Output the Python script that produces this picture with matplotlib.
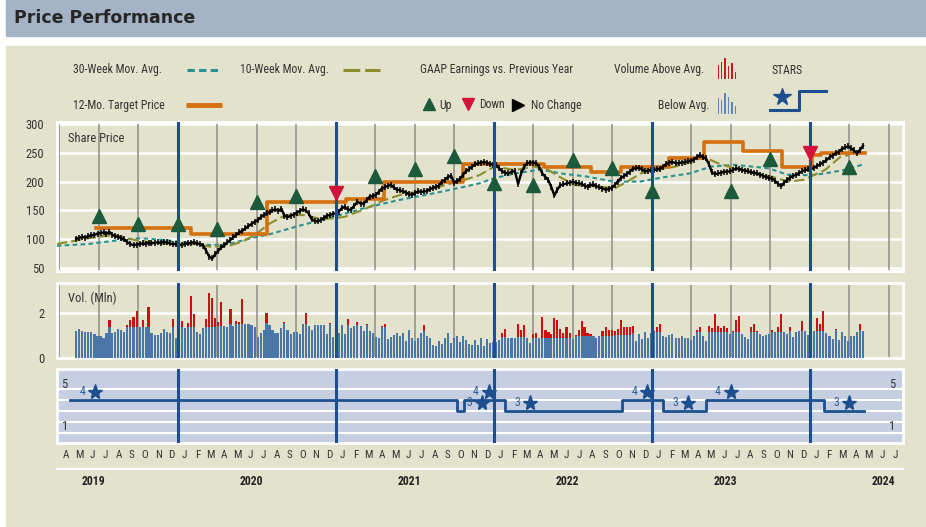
import numpy as np
import pandas as pd
import matplotlib
matplotlib.use('Agg')
import matplotlib.pyplot as plt
from matplotlib import font_manager
from matplotlib.patches import Rectangle

# pick a narrow font if one is installed
names = {f.name for f in font_manager.fontManager.ttflist}
narrow = 'DejaVu Sans'
for cand in ['Liberation Sans Narrow', 'DejaVu Sans Condensed', 'Roboto Condensed', 'Liberation Sans']:
    if cand in names:
        narrow = cand
        break
plt.rcParams['font.family'] = [narrow, 'DejaVu Sans']

# ---------------- data ----------------
# weekly closes, first week ending 2019-05-10
close_2019 = [101, 103, 104, 103, 106, 107, 108, 110, 111, 112, 110, 113, 108, 105, 104, 102, 100,
              95, 92, 90, 91, 92, 93, 92, 94, 93, 94, 95, 94, 96, 95, 93, 92, 92]
close_2020 = [91, 90, 92, 93, 94, 95, 93, 92, 89, 80, 70, 67, 74, 80, 86, 90, 95, 99, 104, 108, 112, 115,
              119, 123, 127, 130, 133, 138, 142, 145, 147, 150, 152, 149, 153, 141, 138, 141, 143,
              146, 149, 152, 150, 145, 135, 132, 131, 134, 137, 141, 142, 144]
close_2021 = [145, 148, 154, 156, 152, 151, 158, 165, 162, 162, 168, 174, 175, 177, 182, 188, 190, 193,
              194, 190, 186, 185, 183, 181, 178, 177, 180, 183, 182, 183, 184, 187, 189, 191, 193,
              200, 203, 208, 210, 198, 201, 205, 212, 218, 222, 226, 230, 232, 233, 234, 232, 230, 229]
close_2022 = [229, 223, 218, 215, 214, 217, 218, 196, 215, 226, 232, 233, 233, 232, 225, 214, 208,
              202, 190, 176, 186, 194, 195, 197, 198, 200, 198, 197, 196, 193, 191, 194, 195, 192,
              190, 188, 186, 187, 189, 194, 200, 206, 209, 213, 217, 222, 223, 224, 221, 218, 219, 220]
close_2023 = [220, 221, 222, 225, 230, 233, 234, 232, 232, 233, 234, 235, 236, 238, 242, 246, 242,
              240, 230, 216, 213, 214, 215, 217, 217, 218, 220, 223, 222, 220, 219, 218, 216, 215,
              214, 212, 210, 208, 206, 205, 201, 196, 192, 198, 203, 207, 210, 212, 215, 218, 220, 221]
close_2024 = [222, 224, 227, 230, 233, 237, 242, 245, 249, 252, 256, 259, 261, 258, 254, 249, 255, 262]

# weekly volume (millions)
vol_2019 = [1.19, 1.25, 1.18, 1.15, 1.13, 1.12, 1.06, 0.96, 0.96, 0.87, 1.11, 1.67, 1.10, 1.13, 1.25, 1.21,
            1.13, 1.46, 1.67, 1.79, 2.07, 1.36, 1.67, 1.36, 2.23, 1.10, 1.00, 1.00, 1.07, 1.27, 1.15, 1.07,
            1.71, 0.87]
vol_2020 = [1.05, 1.62, 1.33, 1.52, 2.73, 1.92, 1.12, 1.03, 1.30, 1.70, 2.87, 2.63, 1.76, 1.56, 2.47, 1.41,
            1.37, 2.16, 1.41, 1.62, 1.56, 2.60, 1.47, 1.47, 1.45, 1.37, 0.93, 1.10, 1.22, 1.99, 1.45,
            1.22, 1.07, 1.10, 1.30, 1.59, 1.22, 1.03, 1.13, 1.13, 1.06, 1.49, 1.99, 1.41, 1.22, 1.45,
            1.46, 1.46, 1.46, 1.06, 1.55, 0.93]
vol_2021 = [0.78, 1.10, 1.44, 1.06, 1.71, 1.33, 1.42, 1.59, 1.41, 1.19, 1.49, 1.18, 1.09, 0.93, 0.87, 1.42,
            1.49, 0.82, 0.93, 1.02, 1.07, 0.96, 1.07, 0.73, 1.22, 0.85, 0.73, 0.85, 1.10, 1.45, 0.96, 0.85,
            0.54, 0.50, 0.75, 0.60, 0.87, 1.07, 0.66, 0.85, 0.96, 0.67, 0.96, 0.78, 0.60, 0.56, 0.78, 0.56,
            0.85, 0.52, 0.82, 0.66, 0.70]
vol_2022 = [0.70, 0.78, 1.07, 1.27, 0.85, 0.85, 0.85, 1.49, 1.22, 1.45, 0.85, 0.66, 1.03, 1.10, 0.85, 1.79,
            1.22, 1.13, 1.03, 1.76, 1.67, 1.27, 1.07, 1.36, 1.07, 0.84, 0.99, 1.22, 1.62, 1.37, 1.07, 1.03,
            0.96, 0.85, 0.96, 1.18, 1.36, 1.22, 1.22, 1.18, 1.27, 1.67, 1.36, 1.36, 1.36, 1.40, 0.75, 1.06,
            0.82, 1.14, 0.85, 1.07]
vol_2023 = [1.19, 1.34, 1.49, 0.96, 0.93, 1.00, 1.03, 0.85, 0.85, 0.96, 0.85, 0.85, 0.78, 0.96, 1.22, 1.34,
            0.96, 0.75, 1.40, 1.30, 1.93, 1.40, 1.31, 1.40, 1.31, 1.04, 1.18, 1.67, 1.85, 1.04, 0.91, 0.82,
            1.36, 1.49, 1.18, 1.04, 0.96, 1.00, 1.04, 1.22, 1.13, 1.36, 1.93, 1.13, 1.04, 1.36, 0.91, 1.13,
            1.19, 1.62, 1.19, 1.00]
vol_2024 = [1.33, 1.18, 1.76, 1.49, 2.07, 1.10, 0.96, 0.82, 1.27, 0.78, 1.13, 0.96, 0.73, 0.96, 0.96, 1.13,
            1.49, 1.18]

# average volume (steps) that splits blue / red
avg_dates = ['2019-04-01', '2020-04-01', '2020-05-01', '2020-07-01', '2020-10-01', '2021-01-01',
             '2021-04-01', '2021-07-01', '2021-10-01', '2022-01-01', '2022-04-01', '2022-07-01',
             '2022-10-01', '2022-11-15', '2022-12-15', '2023-01-01', '2023-11-15', '2024-03-01']
avg_vals = [1.36, 1.42, 1.49, 1.54, 1.47, 1.44, 1.34, 1.18, 1.05, 0.92, 0.88, 0.96, 1.00, 1.07, 1.12,
            1.13, 1.18, 1.22]

ma30_dates = ['2019-03-26', '2019-06-07', '2019-08-20', '2019-10-05', '2019-12-01', '2020-01-25',
              '2020-03-18', '2020-04-28', '2020-06-28', '2020-08-01', '2020-10-05', '2020-12-22',
              '2021-03-06', '2021-05-25', '2021-08-10', '2021-10-25', '2021-11-28', '2022-01-03',
              '2022-02-18', '2022-04-18', '2022-06-05', '2022-08-01', '2022-10-05', '2022-12-05',
              '2023-01-25', '2023-03-28', '2023-05-18', '2023-07-10', '2023-09-28', '2023-11-10',
              '2024-01-03', '2024-02-05', '2024-03-20', '2024-05-05']
ma30_vals = [89, 92, 99, 102, 99, 94, 90, 92, 104, 109, 123, 138, 154, 168, 179, 191, 197, 206, 214, 221,
             214, 209, 200, 200, 207, 214, 226, 229, 223, 212, 211, 214, 220, 230]

ma10_dates = ['2019-03-26', '2019-06-07', '2019-08-07', '2019-09-22', '2019-12-01', '2020-02-10',
              '2020-03-18', '2020-04-28', '2020-05-28', '2020-06-28', '2020-07-28', '2020-09-06',
              '2020-10-22', '2020-11-22', '2020-12-22', '2021-01-22', '2021-03-06', '2021-04-22',
              '2021-06-10', '2021-07-25', '2021-09-10', '2021-10-25', '2021-11-28', '2022-01-03',
              '2022-02-18', '2022-04-03', '2022-05-06', '2022-06-06', '2022-07-06', '2022-09-06',
              '2022-10-06', '2022-11-06', '2022-12-06', '2023-01-09', '2023-02-24', '2023-03-28',
              '2023-04-30', '2023-06-01', '2023-07-09', '2023-08-18', '2023-10-03', '2023-11-12',
              '2023-12-18', '2024-02-06', '2024-03-12', '2024-04-01']
ma10_vals = [92, 102, 108, 99, 92, 92, 87, 89, 96, 108, 126, 142, 142, 136, 136, 139, 152, 168, 180, 183,
             194, 203, 211, 226, 220, 226, 220, 206, 194, 191, 188, 200, 214, 220, 226, 233, 243, 232,
             223, 217, 209, 200, 203, 220, 243, 246]

# 12-month target price (step changes)
target_dates = ['2019-06-24', '2020-02-02', '2020-07-25', '2021-01-25', '2021-04-22', '2021-10-22',
                '2022-04-25', '2022-08-13', '2022-10-22', '2023-02-10', '2023-05-01', '2023-07-30',
                '2023-10-28', '2024-01-07', '2024-01-28', '2024-05-07']
target_vals = [120, 110, 165, 170, 200, 230, 225, 216, 226, 241, 269, 253, 226, 246, 249, 249]

# GAAP earnings vs previous year
up_dates = ['2019-07-01', '2019-10-01', '2020-01-01', '2020-04-01', '2020-07-01', '2020-10-01',
            '2021-04-01', '2021-07-01', '2021-10-01', '2022-01-01', '2022-04-01', '2022-07-01',
            '2022-10-01', '2023-01-01', '2023-07-01', '2023-10-01', '2024-04-01']
up_vals = [140, 126, 126, 118, 165, 175, 210, 221, 244, 197, 194, 237, 224, 184, 183, 239, 226]
down_dates = ['2021-01-01', '2024-01-01']
down_vals = [181, 250]

# STARS ranking
stars_dates = ['2019-04-25', '2021-10-07', '2021-10-23', '2022-01-28', '2022-10-25', '2023-01-28',
               '2023-05-04', '2024-02-03', '2024-05-06']
stars_vals = [4, 3, 4, 3, 4, 3, 4, 3, 3]

price_ticks = [50, 100, 150, 200, 250, 300]
years = [2019, 2020, 2021, 2022, 2023, 2024]
month_letters = 'JFMAMJJASOND'
legend_red = [14, 17, 21, 13, 16, 7]
legend_blue = [16, 14, 21, 17, 12, 8]


# ---------------- helpers ----------------
def months(d):
    d = pd.Timestamp(d)
    return (d.year - 2019) * 12 + (d.month - 4) + (d.day - 1) / d.days_in_month


def mlist(ds):
    return np.array([months(d) for d in ds])


close = close_2019 + close_2020 + close_2021 + close_2022 + close_2023 + close_2024
vol = np.array(vol_2019 + vol_2020 + vol_2021 + vol_2022 + vol_2023 + vol_2024)
weeks = pd.date_range('2019-05-10', periods=len(close), freq='W-FRI')
wm = mlist(weeks)
vm = wm[:len(vol)]
avg_m = mlist(avg_dates)
avg = np.array(avg_vals)[np.searchsorted(avg_m, vm, side='right') - 1]
blue_part = np.minimum(vol, avg)
red_part = np.clip(vol - avg, 0, None)

W, H = 926, 527
beige = '#e3e2cd'
navy = '#1d4f8f'
txt = '#333333'
fig = plt.figure(figsize=(W / 100, H / 100), dpi=100)


def px_axes(l, t, r, b):
    return fig.add_axes([l / W, 1 - b / H, (r - l) / W, (b - t) / H])


deco = fig.add_axes([0, 0, 1, 1])
deco.set_xlim(0, W)
deco.set_ylim(H, 0)
deco.axis('off')
deco.add_patch(Rectangle((6, 0), W - 6, 36, color='#a4b3c5'))
deco.add_patch(Rectangle((6, 46), W - 6, H - 46, color=beige))
deco.text(14, 18, 'Price Performance', fontsize=12.5, fontweight='bold', family='DejaVu Sans',
          va='center', color='#262626')

# legend
lf = 8.5
deco.text(73, 70, '30-Week Mov. Avg.', fontsize=lf, color=txt, va='center')
deco.plot([187, 222], [70, 70], color='#2a9191', lw=2.2, dashes=(2.4, 1.4))
deco.text(240, 70, '10-Week Mov. Avg.', fontsize=lf, color=txt, va='center')
deco.plot([343, 380], [70, 70], color='#8f8c2c', lw=2.2, dashes=(5.5, 1.6))
deco.text(420, 70, 'GAAP Earnings vs. Previous Year', fontsize=lf, color=txt, va='center')
deco.text(614, 70, 'Volume Above Avg.', fontsize=lf, color=txt, va='center')
deco.text(772, 70, 'STARS', fontsize=lf, color=txt, va='center')
deco.text(73, 105, '12-Mo. Target Price', fontsize=lf, color=txt, va='center')
deco.plot([186, 222], [105, 105], color='#d4700d', lw=3.5, solid_capstyle='butt')
deco.plot(429, 104, '^', ms=8.5, color='#1c5a3d')
deco.text(439, 105, 'Up', fontsize=lf, color=txt, va='center')
deco.plot(468, 104, 'v', ms=8.5, color='#d2133a')
deco.text(479, 105, 'Down', fontsize=lf, color=txt, va='center')
deco.plot(518, 105, '>', ms=8.5, color='black')
deco.text(531, 105, 'No Change', fontsize=lf, color=txt, va='center')
deco.text(658, 105, 'Below Avg.', fontsize=lf, color=txt, va='center')
for i, h in enumerate(legend_red):
    deco.add_patch(Rectangle((717.5 + 3.4 * i, 79 - h), 1.4, h, color='#cc1a1a', lw=0))
for i, h in enumerate(legend_blue):
    deco.add_patch(Rectangle((717.5 + 3.4 * i, 114 - h), 1.4, h, color='#5b86b8', lw=0))
deco.plot(782, 97, '*', ms=13, color=navy)
deco.plot([770, 799, 799, 826], [110, 110, 91, 91], color=navy, lw=2.2)

xlo, xhi = -0.18, 64.1
year_lines = [months(f'{y}-01-01') for y in years[1:]]


def frame(ax, face):
    ax.set_facecolor(face)
    ax.set_xlim(xlo, xhi)
    for s in ax.spines.values():
        s.set_color('white')
        s.set_linewidth(2)
    ax.set_xticks([])
    ax.tick_params(length=0, labelsize=9, labelcolor=txt)


def vgrid(ax):
    for q in range(0, 64, 3):
        if q not in year_lines:
            ax.axvline(q, color='#8e8e88', lw=1.1, zorder=1)
    for y in year_lines:
        ax.axvline(y, color=navy, lw=2.2, zorder=7)


# price panel
ax_p = px_axes(57, 122, 903, 271)
frame(ax_p, beige)
ax_p.set_ylim(45.3, 303.1)
ax_p.set_yticks(price_ticks)
ax_p.tick_params(axis='y', pad=9)
for t in price_ticks:
    ax_p.axhline(t, color='white', lw=1.8, zorder=0.5)
vgrid(ax_p)
ax_p.plot(mlist(ma30_dates), ma30_vals, color='#2a9191', lw=1.5, dashes=(2.2, 1.6), zorder=3)
ax_p.plot(mlist(ma10_dates), ma10_vals, color='#8f8c2c', lw=1.5, dashes=(5, 2), zorder=3)
ax_p.step(mlist(target_dates), target_vals, where='post', color='#d4700d', lw=2.6, zorder=4)
ax_p.plot(wm, close, color='black', lw=1.7, marker='|', ms=5, mew=1.1, zorder=5)
ax_p.plot(mlist(up_dates), up_vals, '^', color='#1c5a3d', ms=10, ls='none', zorder=8)
ax_p.plot(mlist(down_dates), down_vals, 'v', color='#d2133a', ms=10, ls='none', zorder=8)
ax_p.text(0.013, 0.89, 'Share Price', transform=ax_p.transAxes, fontsize=9, color=txt, va='center')

# volume panel
ax_v = px_axes(57, 283, 903, 358)
frame(ax_v, beige)
ax_v.set_ylim(-0.02, 3.31)
ax_v.set_yticks([0, 2])
ax_v.tick_params(axis='y', pad=9)
ax_v.axhline(2, color='white', lw=1.8, zorder=0.5)
vgrid(ax_v)
ax_v.bar(vm, blue_part, width=0.16, color='#4a76a8', zorder=3)
ax_v.bar(vm, red_part, bottom=blue_part, width=0.16, color='#cc1010', zorder=3)
ax_v.text(0.013, 0.8, 'Vol. (Mln)', transform=ax_v.transAxes, fontsize=9, color=txt, va='center')

# STARS panel
ax_s = px_axes(57, 369, 903, 443)
frame(ax_s, '#c5cfe1')
ax_s.set_ylim(0.09, 6.82)
ax_s.set_yticks([])
for lv in range(1, 6):
    ax_s.axhline(lv, color='white', lw=1.5, zorder=1)
for y in year_lines:
    ax_s.axvline(y, color=navy, lw=2.2, zorder=4)
sm = mlist(stars_dates)
ax_s.step(sm, stars_vals, where='post', color=navy, lw=2, zorder=3)
for x, lv in zip(sm[:-1], stars_vals[:-1]):
    ax_s.plot(x + 1.9, lv + 0.74, '*', ms=11, color=navy, zorder=5)
    ax_s.text(x + 0.95, lv + 0.74, str(lv), fontsize=8.5, color='#2c5b98', ha='center', va='center')
for lab, yv in (('5', 5.45), ('1', 1.6)):
    ax_s.text(0.4, yv, lab, fontsize=9, color=txt, ha='center', va='center')
    ax_s.text(63.3, yv, lab, fontsize=9, color=txt, ha='center', va='center')

tr = ax_s.get_xaxis_transform()
for i in range(64):
    ax_s.text(i + 0.5, -0.162, month_letters[(3 + i) % 12], transform=tr, fontsize=8, color=txt,
              ha='center', va='center')
ax_s.plot([xlo, xhi], [-0.351, -0.351], transform=tr, color='white', lw=1.5, clip_on=False)
for y in years:
    ax_s.text(months(f'{y}-01-01') + 5.6, -0.514, str(y), transform=tr, fontsize=8.5,
              fontweight='bold', color='#222222', ha='center', va='center')

fig.savefig('out.png', dpi=100)
